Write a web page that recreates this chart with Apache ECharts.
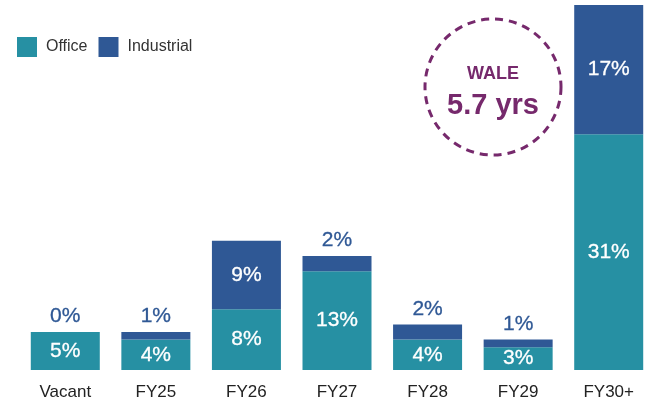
<!DOCTYPE html>
<html>
<head>
<meta charset="utf-8">
<script src="https://cdn.jsdelivr.net/npm/echarts@6/dist/echarts.min.js"></script>
<style>
  html, body { margin: 0; padding: 0; background: #fff; }
  #chart { width: 655px; height: 401px; }
</style>
</head>
<body>
<div id="chart"></div>
<script>
// 数据
const categories = ['Vacant', 'FY25', 'FY26', 'FY27', 'FY28', 'FY29', 'FY30+'];
const office = [5, 4, 8, 13, 4, 3, 31];
const industrial = [0, 1, 9, 2, 2, 1, 17];

const teal = '#2690a3';
const blue = '#2f5895';
const purple = '#76296c';

const myChart = echarts.init(document.getElementById('chart'));

// 小的段把标签放在顶部，颜色跟柱子一样
const industrialData = industrial.map((v) => {
  if (v >= 5) {
    return { value: v, label: { position: 'inside', color: '#fff', textBorderColor: '#fff' } };
  }
  return { value: v, label: { position: 'top', color: blue, textBorderColor: blue, distance: 5 } };
});

const valueLabel = {
  show: true,
  fontSize: 21,
  textBorderWidth: 0.3,
  formatter: (p) => p.value + '%',
};

const option = {
  animation: false,
  textStyle: { fontFamily: 'Liberation Sans, Arial, sans-serif' },
  legend: {
    left: 12,
    top: 32,
    itemWidth: 20,
    itemHeight: 20,
    itemGap: 11,
    icon: 'rect',
    textStyle: { fontSize: 16, color: '#333', padding: [0, 0, 0, 4] },
    data: ['Office', 'Industrial'],
  },
  grid: {
    left: 20,
    right: 1,
    top: 5,
    bottom: 31,
  },
  xAxis: {
    type: 'category',
    data: categories,
    axisLine: { show: false },
    axisTick: { show: false },
    axisLabel: { color: '#222', fontSize: 17, margin: 14 },
  },
  yAxis: {
    type: 'value',
    min: 0,
    max: 48,
    show: false,
  },
  series: [
    {
      name: 'Office',
      type: 'bar',
      stack: 'total',
      data: office,
      barWidth: 69,
      itemStyle: { color: teal },
      label: Object.assign({}, valueLabel, {
        position: 'inside',
        color: '#fff',
        textBorderColor: '#fff',
      }),
    },
    {
      name: 'Industrial',
      type: 'bar',
      stack: 'total',
      data: industrialData,
      barWidth: 69,
      itemStyle: { color: blue },
      label: valueLabel,
    },
  ],
  graphic: [
    {
      type: 'circle',
      shape: { cx: 493, cy: 87, r: 68 },
      style: { fill: 'none', stroke: purple, lineWidth: 3, lineDash: [8, 6] },
    },
    {
      type: 'text',
      x: 493,
      y: 74,
      style: {
        text: 'WALE',
        fill: purple,
        font: 'bold 18px Liberation Sans, Arial, sans-serif',
        align: 'center',
        verticalAlign: 'middle',
      },
    },
    {
      type: 'text',
      x: 493,
      y: 106,
      style: {
        text: '5.7 yrs',
        fill: purple,
        font: 'bold 29px Liberation Sans, Arial, sans-serif',
        align: 'center',
        verticalAlign: 'middle',
      },
    },
  ],
};

myChart.setOption(option);
</script>
</body>
</html>
